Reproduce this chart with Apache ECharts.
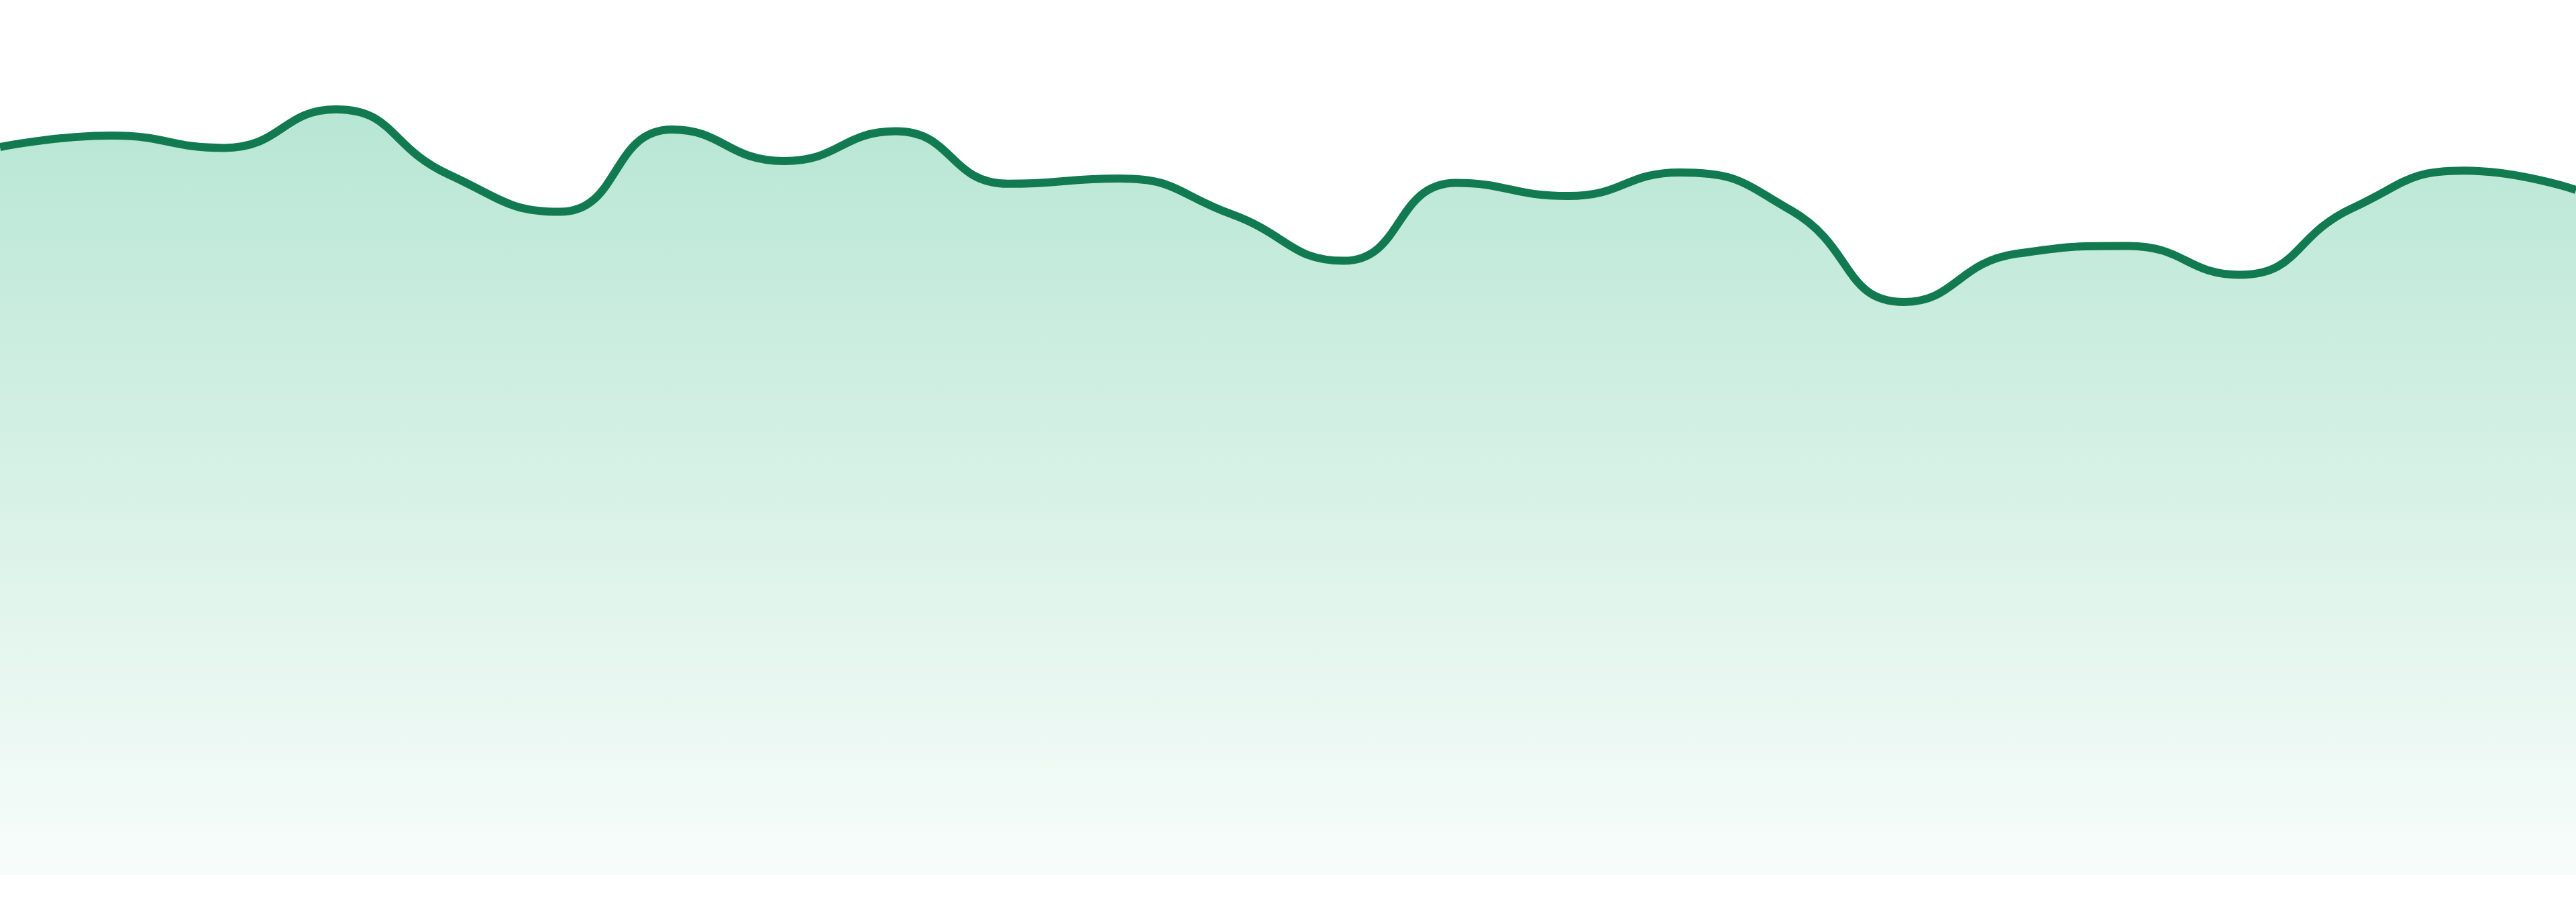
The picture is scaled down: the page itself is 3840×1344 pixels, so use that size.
<!DOCTYPE html>
<html>
<head>
<meta charset="utf-8">
<script src="https://cdn.jsdelivr.net/npm/echarts@6/dist/echarts.min.js"></script>
<style>
html,body{margin:0;padding:0;background:#ffffff;}
#chart{width:3840px;height:1344px;}
</style>
</head>
<body>
<div id="chart"></div>
<script>
const categories = ['1','2','3','4','5','6','7','8','9','10','11','12','13','14','15','16','17','18','19','20','21','22','23','24'];
const values = [83.2, 84.5, 83.1, 87.5, 80.1, 75.8, 85.2, 81.6, 85.0, 79.0, 79.6, 75.5, 70.2, 79.1, 77.6, 80.3, 75.9, 65.5, 71.0, 71.9, 68.6, 76.2, 80.5, 78.3];

const chart = echarts.init(document.getElementById('chart'));
chart.setOption({
  animation: false,
  backgroundColor: '#ffffff',
  grid: { left: 0, right: 0, top: 0, bottom: 40, containLabel: false },
  xAxis: {
    type: 'category',
    data: categories,
    boundaryGap: false,
    show: false
  },
  yAxis: {
    type: 'value',
    min: 0,
    max: 100,
    show: false,
    splitLine: { show: false }
  },
  series: [{
    type: 'line',
    data: values,
    smooth: true,
    symbol: 'none',
    lineStyle: { color: '#127a50', width: 12 },
    areaStyle: {
      opacity: 1,
      color: new echarts.graphic.LinearGradient(0, 0, 0, 1, [
        { offset: 0, color: 'rgba(25,175,115,0.31)' },
        { offset: 1, color: 'rgba(25,175,115,0.03)' }
      ])
    }
  }]
});
</script>
</body>
</html>
